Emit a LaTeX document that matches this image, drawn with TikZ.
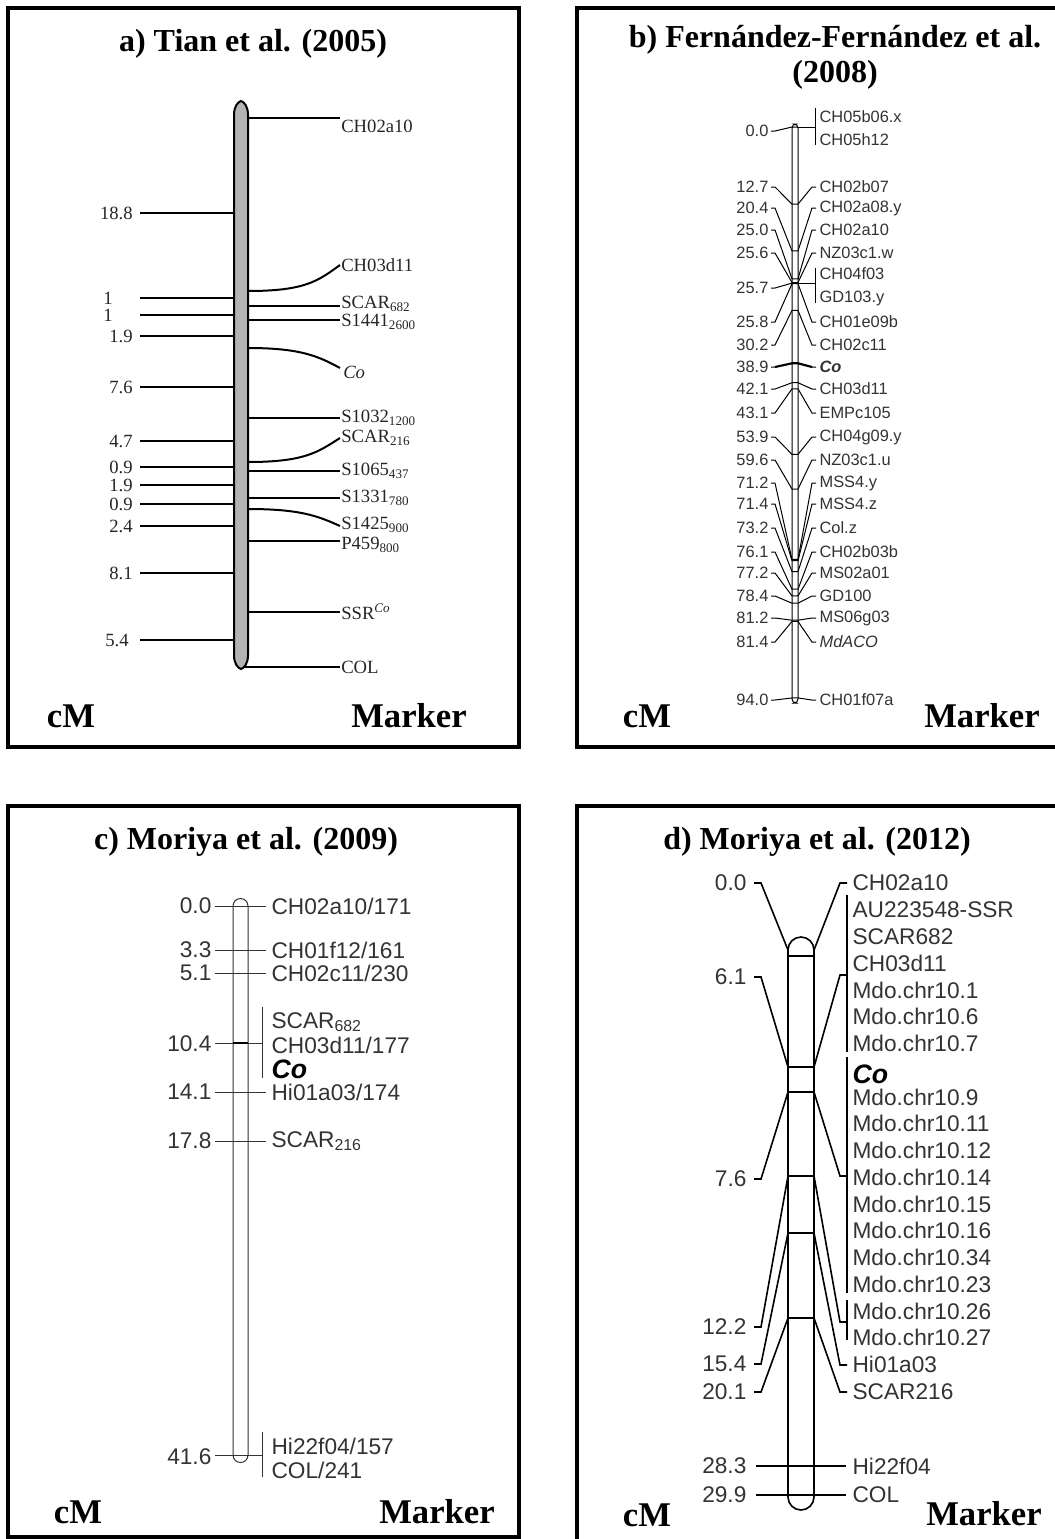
\documentclass[tikz,border=0pt]{standalone}
\usepackage{fontspec}
\setmainfont{Liberation Serif}
\setsansfont{Liberation Sans}
\usetikzlibrary{positioning}

\definecolor{ink}{HTML}{333333}
\definecolor{chromgray}{HTML}{B4B4B4}

\tikzset{
    frame/.style={line width=2.4pt},
    ptitle/.style={font=\bfseries\fontsize{24}{28}\selectfont},
    axtext/.style={font=\bfseries\fontsize{26}{30}\selectfont},
    tianlbl/.style={font=\fontsize{14}{16}\selectfont, text=black!85, inner sep=0pt},
    fflbl/.style={font=\sffamily\fontsize{12.3}{14}\selectfont, text=ink, inner sep=1pt},
    mlbl/.style={font=\sffamily\fontsize{17}{19}\selectfont, text=ink, inner sep=1pt},
    colbl/.style={font=\sffamily\bfseries\itshape\fontsize{20}{22}\selectfont, inner sep=1pt},
    thick line/.style={line width=1.5pt},
    thin line/.style={line width=0.75pt}
}

\begin{document}
\begin{tikzpicture}[x=0.75pt, y=-0.75pt]
    \useasboundingbox (0,0) rectangle (1054,1539);
    \fill[white] (0,0) rectangle (1054,1539);

    % a) Tian et al. (2005)
    \draw[frame] (8,8) rectangle (519,747);
    \node[ptitle] (ta) at (253,44) {a) Tian et al. (2005)};
    \node[axtext] (cma) at (71,716) {cM};
    \node[axtext] (mka) at (409,716) {Marker};
    \draw[thick line, fill=chromgray] (234,115) -- (234,655)
        .. controls (234,664) and (238,668) .. (241,669)
        .. controls (244,668) and (248,664) .. (248,655) -- (248,115)
        .. controls (248,106) and (244,102) .. (241,101)
        .. controls (238,102) and (234,106) .. (234,115) -- cycle;
    \foreach \y/\x/\v [count=\i] in {213/133/18.8, 298/113/1, 315/113/1, 336/133/1.9,
        387/133/7.6, 441/133/4.7, 467/133/0.9, 485/133/1.9, 504/133/0.9,
        526/133/2.4, 573/133/8.1, 640/129/5.4} {
        \node[tianlbl, anchor=east] (acm\i) at (\x,\y) {\v};
        \draw[thick line] (140,\y) -- (234,\y);
    }
    \foreach \y/\ly/\m [count=\i] in {306/304/SCAR\textsubscript{682}, 320/322/S1441\textsubscript{2600},
        418/418/S1032\textsubscript{1200}, 471/471/S1065\textsubscript{437}, 498/498/S1331\textsubscript{780},
        541/545/P459\textsubscript{800}, 612/612/SSR\textsuperscript{\textit{Co}}} {
        \draw[thick line] (248,\y) -- (340,\y);
        \node[tianlbl, anchor=west] (amk\i) at (341,\ly) {\m};
    }
    \draw[thick line] (248,118) -- (340,118);
    \node[tianlbl, anchor=west] (ach02) at (341,126) {CH02a10};
    \draw[thick line] (248,291) .. controls (305,291) and (318,281) .. (340,265);
    \node[tianlbl, anchor=west] (ach03) at (341,265) {CH03d11};
    \draw[thick line] (248,348) .. controls (300,348) and (318,356) .. (340,368);
    \node[tianlbl, anchor=west] (aco) at (343,372) {\textit{Co}};
    \draw[thick line] (248,462) .. controls (305,462) and (318,452) .. (340,438);
    \node[tianlbl, anchor=west] (ascar) at (341,438) {SCAR\textsubscript{216}};
    \draw[thick line] (248,509) .. controls (300,509) and (318,516) .. (340,526);
    \node[tianlbl, anchor=west] (as1425) at (341,525) {S1425\textsubscript{900}};
    \draw[thick line] (243,667) -- (340,667);
    \node[tianlbl, anchor=west] (acol) at (341,667) {COL};

    % b) Fernandez-Fernandez et al. (2008)
    \draw[frame] (577,8) rectangle (1075,747);
    \node[ptitle] (tb) at (835,40) {b) Fernández-Fernández et al.};
    \node[ptitle] (tb2) at (835,75) {(2008)};
    \node[axtext] (cmb) at (647,716) {cM};
    \node[axtext] (mkb) at (982,716) {Marker};
    \draw[thin line, rounded corners=3] (792,124) rectangle (798,703);
    \foreach \cmv/\yl [count=\i] in {0.0/131, 12.7/187, 20.4/208, 25.0/230, 25.6/253, 25.7/288,
        25.8/322, 30.2/345, 38.9/367, 42.1/389, 43.1/413, 53.9/437, 59.6/460, 71.2/483,
        71.4/504, 73.2/528, 76.1/552, 77.2/573, 78.4/596, 81.2/618, 81.4/642, 94.0/700} {
        \pgfmathsetmacro\yc{127+\cmv*6.074}
        \node[fflbl, anchor=east] (bcm\i) at (770,\yl) {\cmv};
        \draw[thin line] (771,\yl) -- (775,\yl) -- (792,\yc) -- (798,\yc);
    }
    \foreach \cmv/\yr/\m [count=\i] in {12.7/187/CH02b07, 20.4/208/CH02a08.y, 25.0/230/CH02a10,
        25.6/253/NZ03c1.w, 25.8/322/CH01e09b, 30.2/345/CH02c11, 38.9/367/{\textbf{\textit{Co}}},
        42.1/389/CH03d11, 43.1/413/EMPc105, 53.9/437/CH04g09.y, 59.6/460/NZ03c1.u,
        71.2/483/MSS4.y, 71.4/504/MSS4.z, 73.2/528/Col.z, 76.1/552/CH02b03b,
        77.2/573/MS02a01, 78.4/596/GD100, 81.2/618/MS06g03, 81.4/642/{\textit{MdACO}},
        94.0/700/CH01f07a} {
        \pgfmathsetmacro\yc{127+\cmv*6.074}
        \draw[thin line] (798,\yc) -- (812,\yr) -- (816,\yr);
        \node[fflbl, anchor=west] (bmk\i) at (818,\yr) {\m};
    }
    \draw[line width=1.6pt] (775,367) -- (792,363.3) -- (798,363.3) -- (812,367);
    \draw[thin line] (798,127) -- (815,127) (815,108) -- (815,145);
    \draw[thin line] (798,283) -- (815,283) (815,268) -- (815,303);
    \node[fflbl, anchor=west] (bx) at (818,117) {CH05b06.x};
    \node[fflbl, anchor=west] (bh) at (818,140) {CH05h12};
    \node[fflbl, anchor=west] (bf) at (818,274) {CH04f03};
    \node[fflbl, anchor=west] (bg) at (818,298) {GD103.y};

    % c) Moriya et al. (2009)
    \draw[frame] (8,806) rectangle (519,1537);
    \node[ptitle] (tc) at (246,842) {c) Moriya et al. (2009)};
    \node[axtext] (cmc) at (78,1512) {cM};
    \node[axtext] (mkc) at (437,1512) {Marker};
    \draw[ink, thin line] (233,906) -- (233,1455) arc[start angle=180, end angle=0, radius=7.5]
        -- (248,906) arc[start angle=0, end angle=-180, radius=7.5] -- cycle;
    \foreach \y/\v/\m [count=\i] in {906/0.0/{CH02a10/171}, 950/3.3/{CH01f12/161},
        973/5.1/{CH02c11/230}, 1092/14.1/{Hi01a03/174}, 1141/17.8/{SCAR\textsubscript{216}}} {
        \node[mlbl, anchor=east] (ccm\i) at (213,\y) {\v};
        \draw[ink, thin line] (215,\y) -- (266,\y);
        \node[mlbl, anchor=west] (cmk\i) at (270,\y) {\m};
    }
    \node[mlbl, anchor=east] (c104) at (213,1044) {10.4};
    \draw[ink, thin line] (215,1043) -- (262,1043) (262,1007) -- (262,1078);
    \draw[thick line] (233,1043) -- (248,1043);
    \node[mlbl, anchor=west] (cscar) at (270,1022) {SCAR\textsubscript{682}};
    \node[mlbl, anchor=west] (cch03) at (270,1045) {CH03d11/177};
    \node[colbl, anchor=west] (cco) at (270,1069) {Co};
    \node[mlbl, anchor=east] (c416) at (213,1457) {41.6};
    \draw[ink, thin line] (215,1455) -- (262,1455) (262,1432) -- (262,1477);
    \node[mlbl, anchor=west] (chi22) at (270,1446) {Hi22f04/157};
    \node[mlbl, anchor=west] (ccol) at (270,1470) {COL/241};

    % d) Moriya et al. (2012)
    \draw[frame] (577,806) rectangle (1075,1560);
    \node[ptitle] (td) at (817,842) {d) Moriya et al. (2012)};
    \node[axtext] (cmd) at (647,1515) {cM};
    \node[axtext] (mkd) at (984,1514) {Marker};
    \draw[line width=1.2pt] (788,950) -- (788,1497) arc[start angle=180, end angle=0, radius=13]
        -- (814,950) arc[start angle=0, end angle=-180, radius=13] -- cycle;
    \foreach \y in {956,1067,1092,1176,1233,1318}
        \draw[line width=1.2pt] (788,\y) -- (814,\y);
    \foreach \yl/\yc/\yr/\v [count=\i] in {883/950/883/0.0, 977/1067/975/6.1, 1179/1092/1176/7.6,
        1327/1176/1322/12.2, 1364/1233/1365/15.4, 1392/1318/1392/20.1} {
        \node[mlbl, anchor=east] (dcm\i) at (748,\yl) {\v};
        \draw[line width=1.2pt] (754,\yl) -- (761,\yl) -- (788,\yc);
        \draw[line width=1.2pt] (814,\yc) -- (840,\yr) -- (847,\yr);
    }
    \foreach \y/\v/\m [count=\i] in {1466/28.3/Hi22f04, 1495/29.9/COL} {
        \node[mlbl, anchor=east] (dcmb\i) at (748,\y) {\v};
        \draw[line width=1.2pt] (756,\y) -- (846,\y);
        \node[mlbl, anchor=west] (dmkb\i) at (851,\y) {\m};
    }
    \draw[line width=1.2pt] (847,895) -- (847,1052) (847,1057) -- (847,1293) (847,1300) -- (847,1340);
    \foreach \m [count=\i] in {CH02a10, AU223548-SSR, SCAR682, CH03d11, Mdo.chr10.1,
        Mdo.chr10.6, Mdo.chr10.7, {}, Mdo.chr10.9, Mdo.chr10.11, Mdo.chr10.12, Mdo.chr10.14,
        Mdo.chr10.15, Mdo.chr10.16, Mdo.chr10.34, Mdo.chr10.23, Mdo.chr10.26, Mdo.chr10.27,
        Hi01a03, SCAR216} {
        \pgfmathsetmacro\yr{883+26.75*(\i-1)}
        \node[mlbl, anchor=west] (dmk\i) at (851,\yr) {\m};
    }
    \node[colbl, anchor=west] (dco) at (851,1074) {Co};
\end{tikzpicture}
\end{document}
